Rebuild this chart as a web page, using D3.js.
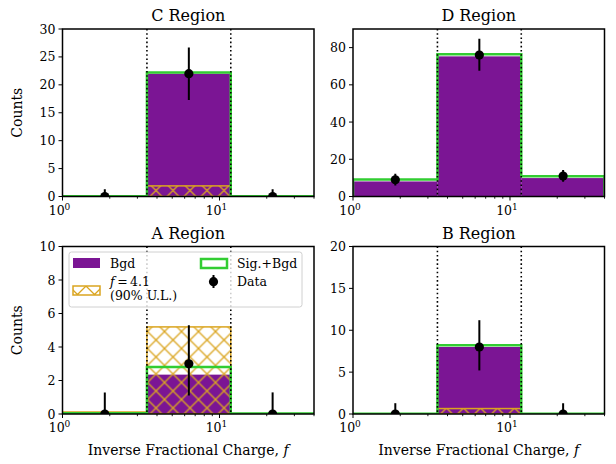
<!DOCTYPE html>
<html>
<head>
<meta charset="utf-8">
<script src="https://cdn.jsdelivr.net/npm/d3@7"></script>
<style>
  body { margin: 0; background: #fff; }
  text { font-family: "DejaVu Serif", serif; fill: #000; }
</style>
</head>
<body>
<div id="chart"></div>
<script>
// bins in inverse fractional charge f
const binEdges = [1, 3.45, 11.8, 40];
const binCenters = [1.86, 6.38, 21.8];

const regions = ["C Region", "D Region", "A Region", "B Region"];
const yMaxes = [30, 90, 10, 20];
const yTickValues = [
    [0, 5, 10, 15, 20, 25, 30],
    [0, 20, 40, 60, 80],
    [0, 2, 4, 6, 8, 10],
    [0, 5, 10, 15, 20]
];
const xTickValues = [1, 10];
const xTickExp = ["0", "1"];

const bgdCounts    = [[0, 22, 0], [8.1, 75.3, 9.9], [0, 2.35, 0], [0, 8.0, 0]];
const sigBgdCounts = [[0.05, 22.2, 0.05], [9.2, 76.4, 10.9], [0.05, 2.8, 0.03], [0.03, 8.2, 0.03]];
const signalCounts = [[0, 1.9, 0], [0, 0, 0], [0.12, 5.2, 0], [0, 0.65, 0]];
const dataCounts   = [[0, 22, 0], [9, 76, 11], [0, 3, 0], [0, 8, 0]];
const dataLow      = [[0, 17.3, 0], [5.9, 67.6, 7.9], [0, 1.1, 0], [0, 5.2, 0]];
const dataHigh     = [[1.29, 26.7, 1.29], [12.2, 84.7, 14.3], [1.29, 5.3, 1.29], [1.29, 11.2, 1.29]];

const width = 616, height = 464;
const purple = "#7b1594", green = "#32cd32", gold = "#daa520";

// panel boxes
const pw = 251.5, ph = 167.5;
const panels = [
    {x: 62.5, y: 29}, {x: 353, y: 29},
    {x: 62.5, y: 246.5}, {x: 353, y: 246.5}
];

const svg = d3.select("#chart").append("svg")
    .attr("width", width)
    .attr("height", height);

const defs = svg.append("defs");
const pat = defs.append("pattern")
    .attr("id", "xhatch")
    .attr("patternUnits", "userSpaceOnUse")
    .attr("width", 17).attr("height", 17);
pat.append("path")
    .attr("d", "M0,0L17,17M0,17L17,0M-1,1L1,-1M16,18L18,16")
    .attr("stroke", gold).attr("stroke-width", 1.3).attr("fill", "none");

panels.forEach(function(p, k) {
    const x = d3.scaleLog().domain([1, 40]).range([0, pw]);
    const y = d3.scaleLinear().domain([0, yMaxes[k]]).range([ph, 0]);

    const g = svg.append("g").attr("transform", "translate(" + p.x + "," + p.y + ")");

    defs.append("clipPath").attr("id", "clip" + k)
        .append("rect").attr("width", pw).attr("height", ph);

    const plot = g.append("g").attr("clip-path", "url(#clip" + k + ")");

    // background
    plot.selectAll("rect.bgd")
        .data(bgdCounts[k])
        .enter().append("rect")
        .attr("class", "bgd")
        .attr("x", (d, i) => x(binEdges[i]))
        .attr("width", (d, i) => x(binEdges[i + 1]) - x(binEdges[i]))
        .attr("y", d => y(d))
        .attr("height", d => ph - y(d))
        .attr("fill", purple);

    // signal (hatched)
    plot.selectAll("rect.sig")
        .data(signalCounts[k])
        .enter().append("rect")
        .attr("class", "sig")
        .attr("x", (d, i) => x(binEdges[i]))
        .attr("width", (d, i) => x(binEdges[i + 1]) - x(binEdges[i]))
        .attr("y", d => y(d))
        .attr("height", d => ph - y(d))
        .attr("fill", d => d > 0 ? "url(#xhatch)" : "none")
        .attr("stroke", d => d > 0 ? gold : "none")
        .attr("stroke-width", 1.5);

    // signal + background step outline
    const pts = [[binEdges[0], 0]];
    sigBgdCounts[k].forEach(function(v, i) {
        pts.push([binEdges[i], v]);
        pts.push([binEdges[i + 1], v]);
    });
    pts.push([binEdges[3], 0]);
    plot.append("path")
        .attr("d", d3.line().x(d => x(d[0])).y(d => y(d[1]))(pts))
        .attr("fill", "none")
        .attr("stroke", green)
        .attr("stroke-width", 2.5);

    // bin boundaries
    plot.selectAll("line.edge")
        .data([binEdges[1], binEdges[2]])
        .enter().append("line")
        .attr("x1", d => x(d)).attr("x2", d => x(d))
        .attr("y1", 0).attr("y2", ph)
        .attr("stroke", "#000")
        .attr("stroke-width", 1.6)
        .attr("stroke-dasharray", "1.6,2.6");

    // data with error bars
    plot.selectAll("line.err")
        .data(dataCounts[k])
        .enter().append("line")
        .attr("x1", (d, i) => x(binCenters[i]))
        .attr("x2", (d, i) => x(binCenters[i]))
        .attr("y1", (d, i) => y(dataLow[k][i]))
        .attr("y2", (d, i) => y(dataHigh[k][i]))
        .attr("stroke", "#000").attr("stroke-width", 2);
    plot.selectAll("circle.pt")
        .data(dataCounts[k])
        .enter().append("circle")
        .attr("cx", (d, i) => x(binCenters[i]))
        .attr("cy", d => y(d))
        .attr("r", 4.6)
        .attr("fill", "#000");

    // axes
    const minor = [2, 3, 4, 5, 6, 7, 8, 9, 20, 30, 40];
    g.selectAll("line.minor")
        .data(minor)
        .enter().append("line")
        .attr("x1", d => x(d)).attr("x2", d => x(d))
        .attr("y1", ph).attr("y2", ph + 2.2)
        .attr("stroke", "#000").attr("stroke-width", 0.9);
    g.selectAll("line.major")
        .data(xTickValues)
        .enter().append("line")
        .attr("x1", d => x(d)).attr("x2", d => x(d))
        .attr("y1", ph).attr("y2", ph + 4)
        .attr("stroke", "#000").attr("stroke-width", 1);
    const xl = g.selectAll("text.xt")
        .data(xTickValues)
        .enter().append("text")
        .attr("x", d => x(d) - 3)
        .attr("y", ph + 18)
        .attr("text-anchor", "middle")
        .style("font-size", "12.5px")
        .text("10");
    xl.append("tspan")
        .attr("dy", -5)
        .style("font-size", "9px")
        .text((d, i) => xTickExp[i]);

    g.selectAll("line.yt")
        .data(yTickValues[k])
        .enter().append("line")
        .attr("x1", -4).attr("x2", 0)
        .attr("y1", d => y(d)).attr("y2", d => y(d))
        .attr("stroke", "#000").attr("stroke-width", 1);
    g.selectAll("text.yt")
        .data(yTickValues[k])
        .enter().append("text")
        .attr("x", -7)
        .attr("y", d => y(d))
        .attr("dy", "0.36em")
        .attr("text-anchor", "end")
        .style("font-size", "12.5px")
        .text(d => d);

    g.append("rect")
        .attr("width", pw).attr("height", ph)
        .attr("fill", "none")
        .attr("stroke", "#000")
        .attr("stroke-width", 1.5);

    g.append("text")
        .attr("x", pw / 2).attr("y", -8)
        .attr("text-anchor", "middle")
        .style("font-size", "16px")
        .text(regions[k]);

    if (k % 2 == 0) {
        g.append("text")
            .attr("transform", "translate(" + (22 - p.x) + "," + (ph / 2) + ") rotate(-90)")
            .attr("text-anchor", "middle")
            .style("font-size", "14px")
            .text("Counts");
    }
    if (k >= 2) {
        const lab = g.append("text")
            .attr("x", pw / 2).attr("y", ph + 41)
            .attr("text-anchor", "middle")
            .style("font-size", "14px")
            .text("Inverse Fractional Charge, ");
        lab.append("tspan").style("font-style", "italic").text("f");
    }

    // legend in A region
    if (k == 2) {
        const lg = g.append("g").attr("transform", "translate(" + (69 - p.x) + "," + (252 - p.y) + ")");
        lg.append("rect")
            .attr("width", 233).attr("height", 55)
            .attr("rx", 2.5)
            .attr("fill", "#fff").attr("fill-opacity", 0.8)
            .attr("stroke", "#d0d0d0").attr("stroke-width", 1);
        lg.append("rect").attr("x", 4).attr("y", 6).attr("width", 27).attr("height", 10)
            .attr("fill", purple);
        lg.append("rect").attr("x", 4).attr("y", 34).attr("width", 27).attr("height", 9)
            .attr("fill", "url(#xhatch)").attr("stroke", gold).attr("stroke-width", 1.5);
        lg.append("rect").attr("x", 132).attr("y", 7).attr("width", 26).attr("height", 9)
            .attr("fill", "none").attr("stroke", green).attr("stroke-width", 2.5);
        lg.append("line").attr("x1", 144.5).attr("x2", 144.5).attr("y1", 23).attr("y2", 36)
            .attr("stroke", "#000").attr("stroke-width", 2);
        lg.append("circle").attr("cx", 144.5).attr("cy", 29.7).attr("r", 4.6).attr("fill", "#000");

        const lt = [
            {x: 41, y: 16, t: "Bgd"},
            {x: 168, y: 16, t: "Sig.+Bgd"},
            {x: 168, y: 34, t: "Data"},
            {x: 41, y: 48, t: "(90% U.L.)"}
        ];
        lg.selectAll("text.lt")
            .data(lt)
            .enter().append("text")
            .attr("x", d => d.x).attr("y", d => d.y)
            .style("font-size", "12.5px")
            .text(d => d.t);
        const ft = lg.append("text").attr("x", 41).attr("y", 34).style("font-size", "12.5px");
        ft.append("tspan").style("font-style", "italic").text("f");
        ft.append("tspan").text("\u2009=\u20094.1");
    }
});
</script>
</body>
</html>
